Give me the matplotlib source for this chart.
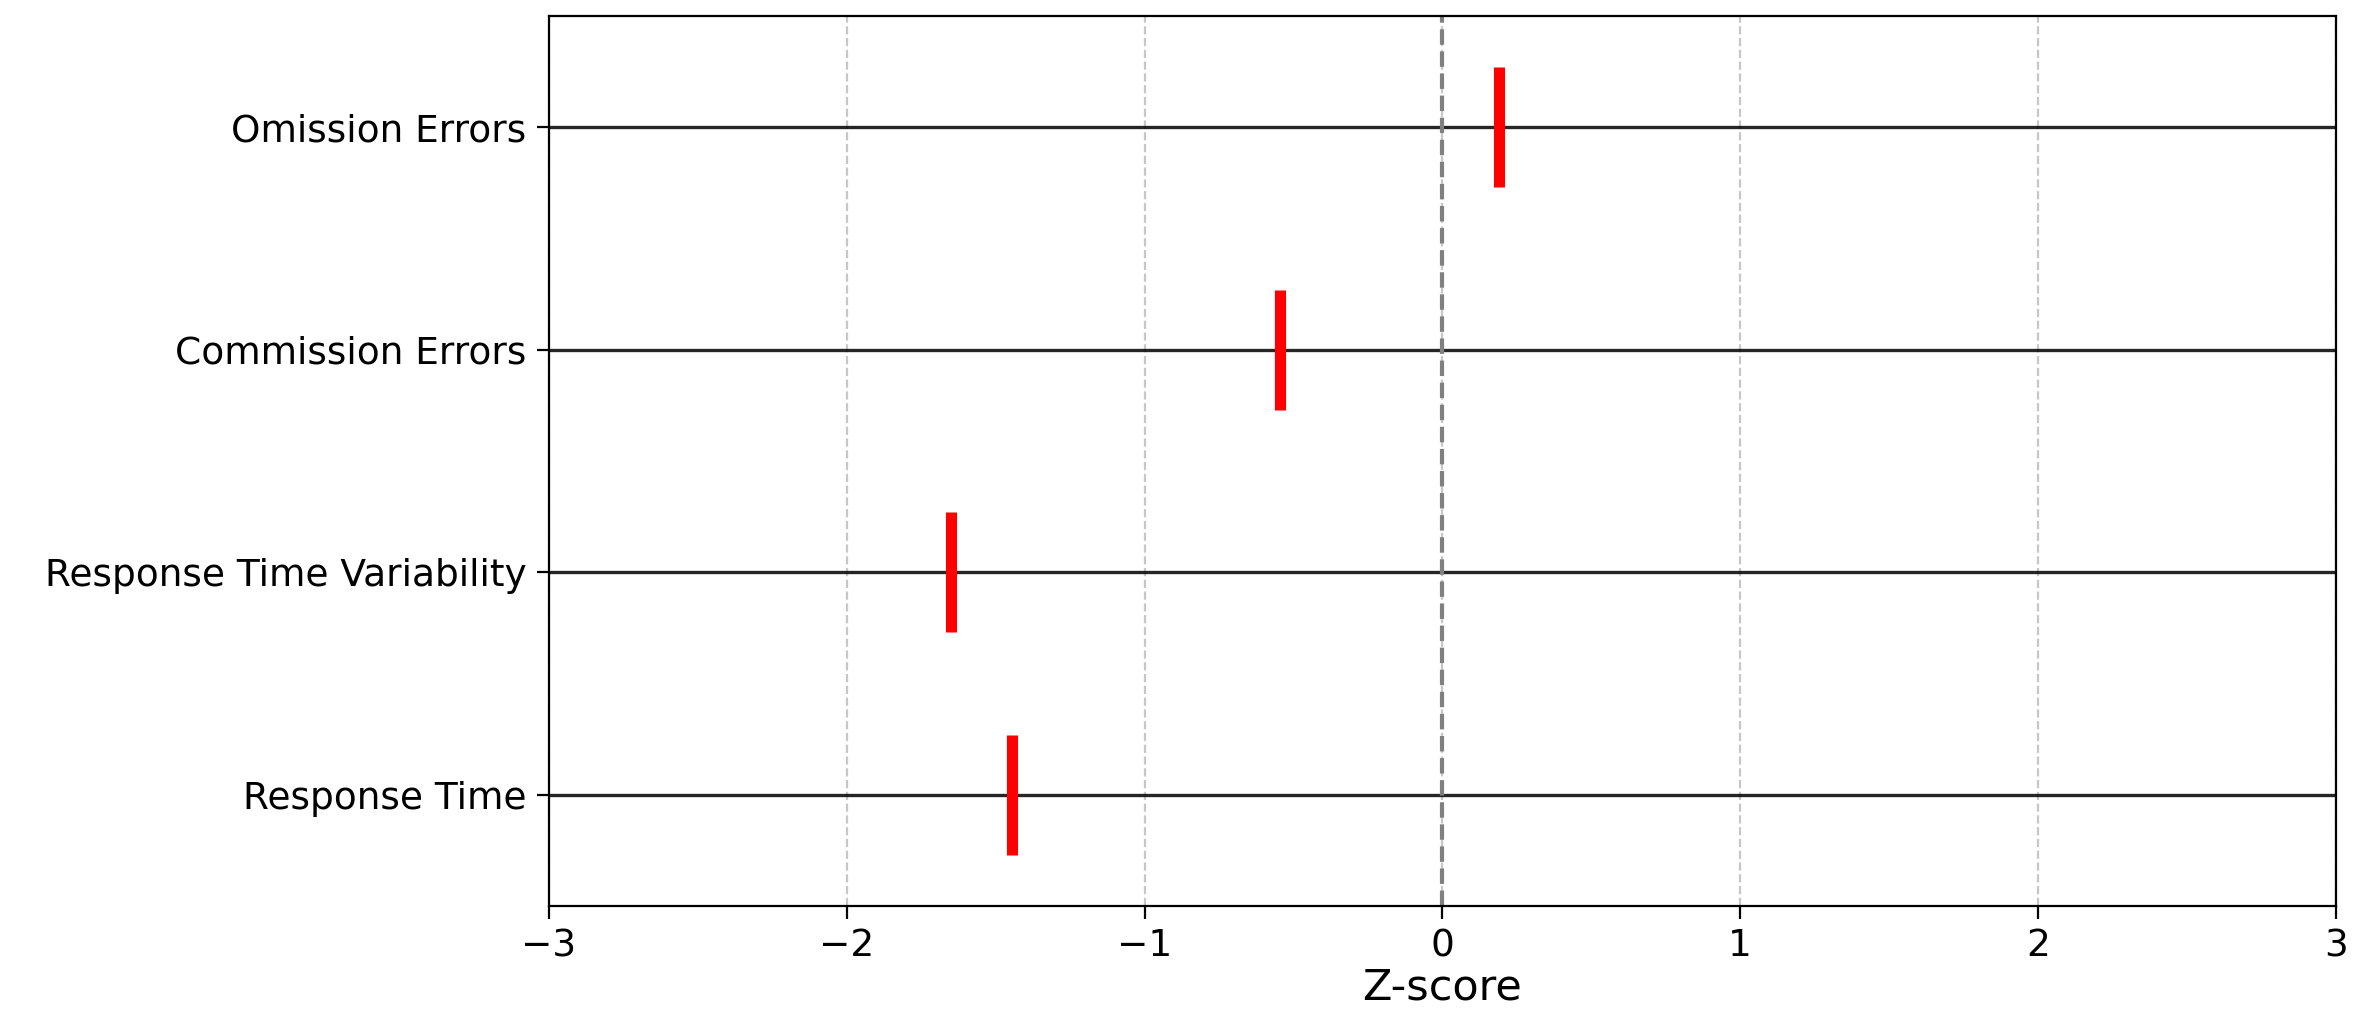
import matplotlib
matplotlib.use("Agg")
import matplotlib.pyplot as plt
import numpy as np

# CPT-style z-scores per measure (bottom to top)
measures = ["Response Time", "Response Time Variability", "Commission Errors", "Omission Errors"]
z_scores = [-1.445, -1.65, -0.545, 0.19]

fig, ax = plt.subplots(figsize=(11.775, 5.045), dpi=200)
fig.subplots_adjust(left=0.2331, right=0.9919, top=0.9841, bottom=0.1021)

y = np.arange(len(measures))

for yi in y:
    ax.axhline(yi, color="black", linewidth=1.2, alpha=0.85, zorder=1)

ax.axvline(0, color="gray", linestyle="--", linewidth=1.5, zorder=2)
ax.vlines(z_scores, y - 0.27, y + 0.27, color="red", linewidth=4, zorder=3)

ax.set_xlim(-3, 3)
ax.set_ylim(-0.5, 3.5)
ax.set_yticks(y)
ax.set_yticklabels(measures)
ax.set_xticks(np.arange(-3, 4, 1))
ax.tick_params(labelsize=13.5, length=4.5)
ax.set_xlabel("Z-score", fontsize=15.5, labelpad=1)
ax.grid(axis="x", linestyle="--", color="#b0b0b0", alpha=0.7, linewidth=0.8)
ax.set_axisbelow(True)

fig.savefig("out.png", dpi=200)
